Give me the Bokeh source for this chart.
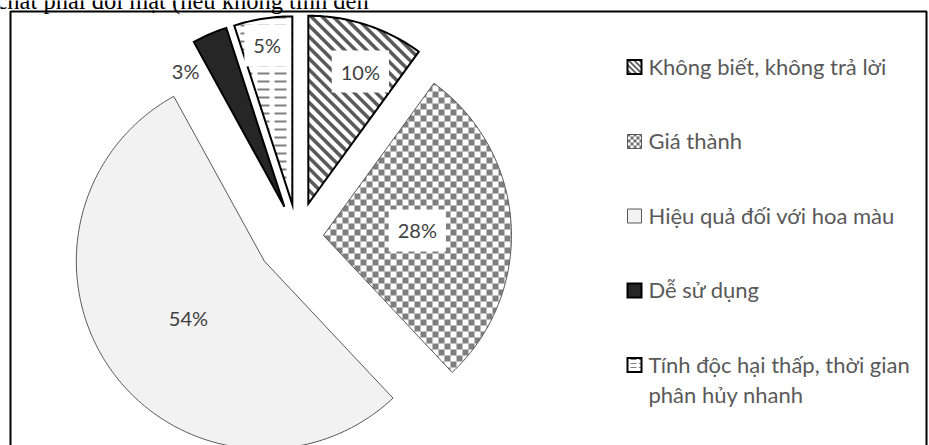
import math

from bokeh.core.properties import value
from bokeh.embed import file_html
from bokeh.models import Range1d
from bokeh.plotting import figure
from bokeh.resources import INLINE

# Survey answers and their shares (percent), clockwise from 12 o'clock
categories = [
    "Không biết, không trả lời",
    "Giá thành",
    "Hiệu quả đối với hoa màu",
    "Dễ sử dụng",
    "Tính độc hại thấp, thời gian\nphân hủy nhanh",
]
shares = [10, 28, 54, 3, 5]
share_labels = ["10%", "28%", "54%", "3%", "5%"]

caption = "chất phải đối mặt (nếu không tính đến"

# Layout (screen pixels; the plot uses a 1:1 pixel data space, y up)
W, H = 929, 445
CX, CY = 297, H - 236.5
R = 188
explode = [35, 26, 41, 33, 33]
label_dist = [142, 94, 95, 168, 161]
label_shift = [3.5, 0.6, -1.0, -12.6, 0.0]
label_boxed = [True, True, False, False, True]

# Fill style of each slice: base colour, outline, and an optional pattern
styles = [
    dict(fill="white", line="black", lw=2, pattern="stripes", pcolor="#5a5a5a"),
    dict(fill="white", line="#595959", lw=1, pattern="checker", pcolor="#7f7f7f"),
    dict(fill="#f2f2f2", line="#595959", lw=1, pattern=None, pcolor=None),
    dict(fill="#262626", line="black", lw=2, pattern=None, pcolor=None),
    dict(fill="white", line="black", lw=2, pattern="dashes", pcolor="#7f7f7f"),
]


def clip_convex(subject, clip):
    """Sutherland-Hodgman: clip polygon `subject` by convex polygon `clip`."""
    area = sum(clip[i][0] * clip[(i + 1) % len(clip)][1]
               - clip[(i + 1) % len(clip)][0] * clip[i][1] for i in range(len(clip)))
    sgn = 1 if area > 0 else -1
    out = subject
    for i in range(len(clip)):
        a, b = clip[i], clip[(i + 1) % len(clip)]

        def side(pt):
            return sgn * ((b[0] - a[0]) * (pt[1] - a[1]) - (b[1] - a[1]) * (pt[0] - a[0]))

        inp, out = out, []
        if not inp:
            break
        for j in range(len(inp)):
            cur, prev = inp[j], inp[j - 1]
            sc, sp = side(cur), side(prev)
            if sc >= 0:
                if sp < 0:
                    t = sp / (sp - sc)
                    out.append((prev[0] + t * (cur[0] - prev[0]), prev[1] + t * (cur[1] - prev[1])))
                out.append(cur)
            elif sp >= 0:
                t = sp / (sp - sc)
                out.append((prev[0] + t * (cur[0] - prev[0]), prev[1] + t * (cur[1] - prev[1])))
    return out


def pattern_tiles(kind, poly, unit=1.0):
    """Pattern pieces (in screen-aligned pixel space) cut to the polygon."""
    xs = [q[0] for q in poly]
    ys = [q[1] for q in poly]
    x0, x1, y0, y1 = min(xs), max(xs), min(ys), max(ys)
    shapes = []
    if kind == "checker":
        c = 6 * unit
        i0, i1 = int(math.floor(x0 / c)), int(math.ceil(x1 / c))
        j0, j1 = int(math.floor(y0 / c)), int(math.ceil(y1 / c))
        for i in range(i0, i1 + 1):
            for j in range(j0, j1 + 1):
                if (i + j) % 2 == 0:
                    shapes.append([(i * c, j * c), ((i + 1) * c, j * c),
                                   ((i + 1) * c, (j + 1) * c), (i * c, (j + 1) * c)])
    elif kind == "stripes":
        period, thick = 11 * unit, 5 * unit
        s0, s1 = x0 + y0, x1 + y1
        d0, d1 = x0 - y1 - 5, x1 - y0 + 5
        k = math.floor(s0 / period) - 1
        while k * period <= s1:
            a, b = k * period, k * period + thick
            shapes.append([((a + d0) / 2, (a - d0) / 2), ((a + d1) / 2, (a - d1) / 2),
                           ((b + d1) / 2, (b - d1) / 2), ((b + d0) / 2, (b - d0) / 2)])
            k += 1
    elif kind == "dashes":
        px, py, dl, dh = 17 * unit, 8 * unit, 12 * unit, 2 * unit
        i0, i1 = int(math.floor(x0 / px)), int(math.ceil(x1 / px))
        j0, j1 = int(math.floor(y0 / py)), int(math.ceil(y1 / py))
        for i in range(i0, i1 + 1):
            for j in range(j0, j1 + 1):
                x, y = i * px + 2 * unit, j * py + 3 * unit
                shapes.append([(x, y), (x + dl, y), (x + dl, y + dh), (x, y + dh)])
    pieces = []
    for s in shapes:
        cut = clip_convex(s, poly)
        if len(cut) >= 3:
            pieces.append(cut)
    return pieces


def draw_patterned(p, poly, st, unit=1.0):
    xs = [q[0] for q in poly]
    ys = [q[1] for q in poly]
    p.patch(xs, ys, fill_color=st["fill"], line_color=None)
    if st["pattern"]:
        pieces = pattern_tiles(st["pattern"], poly, unit)
        if pieces:
            p.patches([[q[0] for q in pc] for pc in pieces],
                      [[q[1] for q in pc] for pc in pieces],
                      fill_color=st["pcolor"], line_color=None)
    p.patch(xs, ys, fill_color=None, line_color=st["line"], line_width=st["lw"],
            line_join="miter")


p = figure(width=W, height=H, x_range=Range1d(0, W), y_range=Range1d(0, H),
           x_axis_type=None, y_axis_type=None, output_backend="svg",
           toolbar_location=None, min_border=0)
p.grid.visible = False
p.outline_line_color = None
p.background_fill_color = "white"

# Text line above the chart frame (cut by the page edge)
p.text(x=[-4], y=[H], text=[caption], text_font=value("Liberation Serif"),
       text_font_size="24.5px", text_color="black", text_baseline="alphabetic")

# Chart frame
p.quad(left=[10], right=[926], top=[H - 11], bottom=[-20],
       fill_color=None, line_color="black", line_width=2)

total = sum(shares)
start = 0.0
for i, share in enumerate(shares):
    end = start + share / total * 360.0
    mid = math.radians((start + end) / 2)
    vx = CX + explode[i] * math.sin(mid)
    vy = CY + explode[i] * math.cos(mid)
    # sector outline: tip, then the arc sampled clockwise
    n = max(8, int(share * 3))
    arc = [math.radians(start + (end - start) * k / n) for k in range(n + 1)]
    poly = [(vx, vy)] + [(vx + R * math.sin(a), vy + R * math.cos(a)) for a in arc]
    draw_patterned(p, poly, styles[i])

    la = mid + math.radians(label_shift[i])
    lx = vx + label_dist[i] * math.sin(la)
    ly = vy + label_dist[i] * math.cos(la)
    extra = dict(background_fill_color="white", padding=9) if label_boxed[i] else {}
    p.text(x=[lx], y=[ly], text=[share_labels[i]], text_font=value("Lato"),
           text_font_size="20px", text_color="#404040", text_align="center",
           text_baseline="middle", **extra)
    start = end

# Legend
LX, LY0, LSTEP, BOX = 634, H - 66.5, 74.5, 14
for i, name in enumerate(categories):
    y = LY0 - i * LSTEP
    h = BOX / 2
    square = [(LX - h, y - h), (LX + h, y - h), (LX + h, y + h), (LX - h, y + h)]
    st = dict(styles[i])
    if st["pattern"] == "checker":
        st["pcolor"] = "#6f6f6f"
    draw_patterned(p, square, st, unit=0.5)
    p.text(x=[LX + 14], y=[y + 14.5], text=[name], text_font=value("Lato"),
           text_font_size="22px", text_color="#595959", text_align="left",
           text_baseline="top", text_line_height=1.12)

open("out.html", "w").write(file_html(p, INLINE))
